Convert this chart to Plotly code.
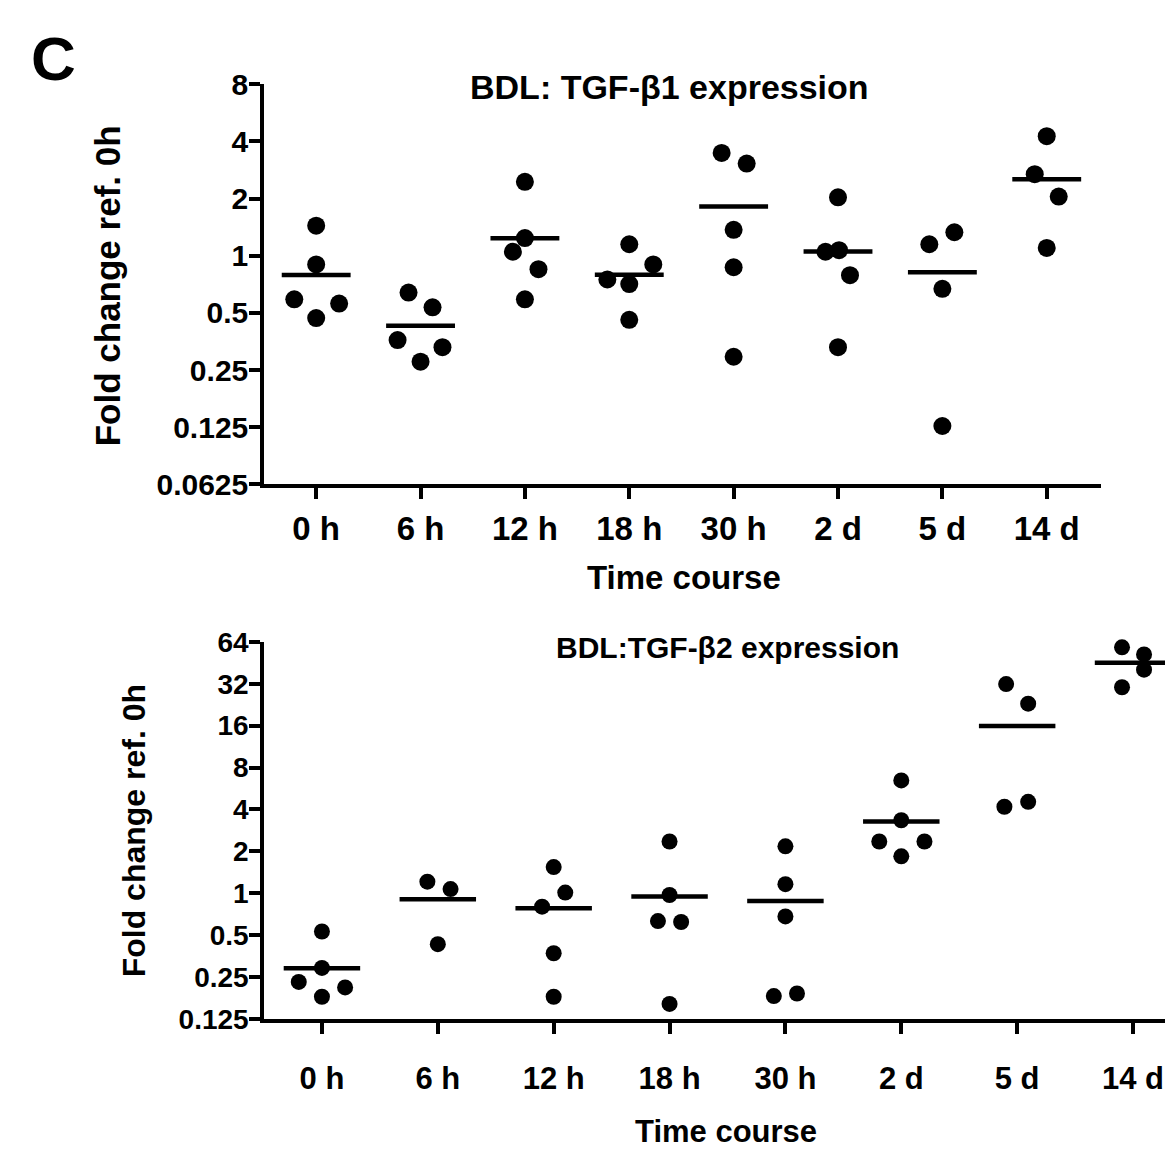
import numpy as np
import plotly.graph_objects as go

# ---------------- data ----------------
categories = ["0 h", "6 h", "12 h", "18 h", "30 h", "2 d", "5 d", "14 d"]

# TGF-beta1 fold change (top panel)
b1_0h = [1.44, 0.90, 0.59, 0.47, 0.56]
b1_6h = [0.64, 0.535, 0.36, 0.277, 0.33]
b1_12h = [2.45, 1.24, 1.05, 0.85, 0.59]
b1_18h = [1.15, 0.75, 0.71, 0.90, 0.46]
b1_30h = [3.48, 3.06, 1.37, 0.87, 0.294]
b1_2d = [2.03, 1.05, 1.07, 0.79, 0.33]
b1_5d = [1.15, 1.33, 0.67, 0.127]
b1_14d = [4.26, 2.69, 2.05, 1.10]

# TGF-beta2 fold change (bottom panel)
b2_0h = [0.53, 0.29, 0.23, 0.21, 0.18]
b2_6h = [1.21, 1.07, 0.43]
b2_12h = [1.54, 1.01, 0.80, 0.37, 0.18]
b2_18h = [2.35, 0.97, 0.63, 0.62, 0.16]
b2_30h = [2.17, 1.16, 0.68, 0.182, 0.19]
b2_2d = [6.46, 3.34, 2.35, 2.35, 1.84]
b2_5d = [31.8, 23.0, 4.18, 4.53]
b2_14d = [58.5, 52.0, 40.4, 30.2]

top_ticks = [0.0625, 0.125, 0.25, 0.5, 1, 2, 4, 8]
top_ticktext = ["0.0625", "0.125", "0.25", "0.5", "1", "2", "4", "8"]
bot_ticks = [0.125, 0.25, 0.5, 1, 2, 4, 8, 16, 32, 64]
bot_ticktext = ["0.125", "0.25", "0.5", "1", "2", "4", "8", "16", "32", "64"]

# scatter spread (horizontal jitter, in category units) - layout only
b1_spread = [[0, 0, -0.21, 0, 0.22], [-0.115, 0.115, -0.22, 0, 0.21],
             [0, 0, -0.115, 0.13, 0], [0, -0.21, 0, 0.23, 0],
             [-0.115, 0.125, 0, 0, 0], [0, -0.12, 0.01, 0.115, 0],
             [-0.125, 0.115, 0, 0], [0, -0.115, 0.115, 0]]
b2_spread = [[0, 0, -0.2, 0.2, 0], [-0.09, 0.11, 0],
             [0, 0.1, -0.1, 0, 0], [0, 0, -0.1, 0.1, 0],
             [0, 0, 0, -0.1, 0.1], [0, 0, -0.19, 0.2, 0],
             [-0.095, 0.095, -0.11, 0.095], [-0.095, 0.095, 0.095, -0.095]]

b1_groups = [b1_0h, b1_6h, b1_12h, b1_18h, b1_30h, b1_2d, b1_5d, b1_14d]
b2_groups = [b2_0h, b2_6h, b2_12h, b2_18h, b2_30h, b2_2d, b2_5d, b2_14d]

# ---------------- figure ----------------
W, H = 1173, 1157
OFF = 8  # default page margin of the browser body
FONT = "Liberation Sans, Arial, Helvetica, sans-serif"


def fx(p):
    return (p - OFF) / W


def fy(p):
    return 1 - (p - OFF) / H


fig = go.Figure()


def add_panel(groups, spread, xa, ya, msize):
    xs, ys = [], []
    for i, (vals, sp) in enumerate(zip(groups, spread)):
        xs += [i + s for s in sp]
        ys += list(vals)
    fig.add_trace(go.Scatter(x=xs, y=ys, mode="markers", xaxis=xa, yaxis=ya,
                             marker=dict(color="black", size=msize, line=dict(width=0)),
                             cliponaxis=False, showlegend=False, hoverinfo="y"))
    lx, ly = [], []
    for i, vals in enumerate(groups):
        m = float(np.mean(vals))
        lx += [i - 0.33, i + 0.33, None]
        ly += [m, m, None]
    fig.add_trace(go.Scatter(x=lx, y=ly, mode="lines", xaxis=xa, yaxis=ya,
                             line=dict(color="black", width=4.5),
                             cliponaxis=False, showlegend=False, hoverinfo="skip"))


add_panel(b1_groups, b1_spread, "x", "y", 18)
add_panel(b2_groups, b2_spread, "x2", "y2", 16)

axis_common = dict(showline=True, linecolor="black", linewidth=3.5, ticks="outside",
                   ticklen=11, tickwidth=3.5, tickcolor="black", showgrid=False,
                   zeroline=False, fixedrange=True)

fig.update_layout(
    width=W, height=H, margin=dict(l=0, r=0, t=0, b=0),
    paper_bgcolor="white", plot_bgcolor="white",
    font=dict(family=FONT, color="black"),
    xaxis=dict(domain=[fx(264), fx(1101)], anchor="y", range=[-0.5, 7.52],
               tickmode="array", tickvals=list(range(8)), ticktext=categories,
               tickfont=dict(size=33, weight="bold"), ticklabelstandoff=1, **axis_common),
    yaxis=dict(domain=[fy(482), fy(70)], anchor="x", type="log",
               range=[np.log10(0.0625), np.log10(8)],
               tickmode="array", tickvals=top_ticks, ticktext=top_ticktext,
               tickfont=dict(size=30, weight="bold"), ticklabelstandoff=-5, **axis_common),
    xaxis2=dict(domain=[fx(264), 1.0], anchor="y2", range=[-0.5, 7.414],
                tickmode="array", tickvals=list(range(8)), ticktext=categories,
                tickfont=dict(size=31, weight="bold"), ticklabelstandoff=18, **axis_common),
    yaxis2=dict(domain=[fy(1032), fy(644)], anchor="x2", type="log",
                range=[np.log10(0.125), np.log10(64)],
                tickmode="array", tickvals=bot_ticks, ticktext=bot_ticktext,
                tickfont=dict(size=28, weight="bold"), ticklabelstandoff=-5, **axis_common),
)

ann = [
    dict(text="C", x=fx(53), y=fy(43), size=62),
    dict(text="BDL: TGF-β1 expression", x=fx(669), y=fy(73), size=34),
    dict(text="BDL:TGF-β2 expression", x=fx(727), y=fy(650), size=30),
    dict(text="Time course", x=fx(684), y=fy(578), size=33),
    dict(text="Time course", x=fx(726), y=fy(1148), size=31),
    dict(text="Fold change ref. 0h", x=fx(107), y=fy(278), size=35, angle=-90),
    dict(text="Fold change ref. 0h", x=fx(134), y=fy(839), size=32, angle=-90),
]
for a in ann:
    fig.add_annotation(text=a["text"], x=a["x"], y=a["y"], xref="paper", yref="paper",
                       xanchor="center", yanchor="middle", showarrow=False,
                       textangle=a.get("angle", 0),
                       font=dict(family=FONT, size=a["size"], color="black", weight="bold"))

fig.write_html("out.html")
